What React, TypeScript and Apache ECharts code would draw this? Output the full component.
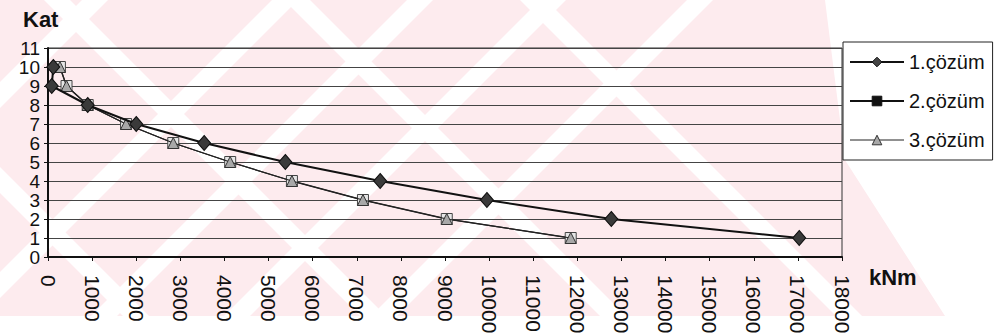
import React, { useEffect, useRef } from "react";
import * as echarts from "echarts";

// Floor numbers (Kat) and bending moments (kNm) for the three solutions
const floors = [10, 9, 8, 7, 6, 5, 4, 3, 2, 1];
const moment1 = [120, 85, 900, 2000, 3540, 5380, 7530, 9950, 12770, 17030];
const moment2 = [270, 420, 900, 1770, 2840, 4130, 5530, 7140, 9040, 11850];
const moment3 = [270, 420, 900, 1770, 2840, 4130, 5530, 7140, 9040, 11850];
const seriesNames = ["1.çözüm", "2.çözüm", "3.çözüm"];

const FONT = "Arial, 'Liberation Sans', sans-serif";

// Background watermark: pink field crossed by white diagonal bands
const H = 316;
const slashBands = [95, 285, 420, 553, 700];
const backBands = [-180, 57, 297, 533];

function band(c: number, w: number, dir: "/" | "\\") {
  return dir === "/"
    ? [[c - w, 0], [c + w, 0], [c + w - H, H], [c - w - H, H]]
    : [[c - w, 0], [c + w, 0], [c + w + H, H], [c - w + H, H]];
}

export default function App() {
  const ref = useRef<HTMLDivElement>(null);

  useEffect(() => {
    if (!ref.current) return;
    const chart = echarts.init(ref.current, undefined, { renderer: "svg" });

    const pair = (xs: number[]) => xs.map((x, i) => [x, floors[i]]);

    const watermark: any[] = [
      {
        type: "polygon",
        z: -10,
        silent: true,
        shape: { points: [[0, 0], [825, 0], [845, 160], [945, H], [0, H]] },
        style: { fill: "#fdebee" },
      },
      ...slashBands.map((c) => ({
        type: "polygon",
        z: -9,
        silent: true,
        shape: { points: band(c, 13, "/") },
        style: { fill: "#ffffff" },
      })),
      ...backBands.map((c) => ({
        type: "polygon",
        z: -9,
        silent: true,
        shape: { points: band(c, 13, "\\") },
        style: { fill: "#ffffff" },
      })),
    ];

    chart.setOption({
      animation: false,
      backgroundColor: "#ffffff",
      textStyle: { fontFamily: FONT },
      grid: {
        left: 48,
        right: 157,
        top: 48,
        bottom: 78,
        outerBoundsMode: "none",
        containLabel: false,
        show: true,
        borderColor: "#333",
        borderWidth: 1,
        backgroundColor: "transparent",
      },
      graphic: [
        ...watermark,
        {
          type: "text",
          left: 23,
          top: 8,
          z: 10,
          style: { text: "Kat", font: `bold 22px ${FONT}`, fill: "#111" },
        },
        {
          type: "text",
          left: 869,
          top: 266,
          z: 10,
          style: { text: "kNm", font: `bold 22px ${FONT}`, fill: "#111" },
        },
      ],
      legend: {
        orient: "vertical",
        left: 843,
        top: 42,
        padding: [10, 8, 10, 6],
        itemGap: 19,
        itemWidth: 54,
        itemHeight: 12,
        backgroundColor: "#ffffff",
        borderColor: "#222",
        borderWidth: 1,
        textStyle: { fontFamily: FONT, fontSize: 20, color: "#111" },
        data: [
          {
            name: seriesNames[0],
            itemStyle: { color: "#444", borderColor: "#111", borderWidth: 1 },
            lineStyle: { color: "#111", width: 2 },
          },
          {
            name: seriesNames[1],
            itemStyle: { color: "#111", borderColor: "#111", borderWidth: 1 },
            lineStyle: { color: "#111", width: 2 },
          },
          {
            name: seriesNames[2],
            itemStyle: { color: "#a8a8a8", borderColor: "#333", borderWidth: 1 },
            lineStyle: { color: "#222", width: 1 },
          },
        ],
      },
      xAxis: {
        type: "value",
        min: 0,
        max: 18000,
        interval: 1000,
        z: 3,
        axisLine: { show: true, onZero: false, lineStyle: { color: "#111", width: 2 } },
        axisTick: { show: true, length: 4, lineStyle: { color: "#111", width: 1 } },
        splitLine: { show: false },
        axisLabel: {
          rotate: -90,
          margin: 18,
          fontSize: 21,
          lineHeight: 20,
          fontFamily: FONT,
          color: "#111",
          showMinLabel: true,
          showMaxLabel: true,
          hideOverlap: false,
          formatter: (v: number) => String(v),
        },
      },
      yAxis: {
        type: "value",
        min: 0,
        max: 11,
        interval: 1,
        z: 3,
        axisLine: { show: true, onZero: false, lineStyle: { color: "#111", width: 2 } },
        axisTick: { show: true, length: 4, lineStyle: { color: "#111", width: 1 } },
        splitLine: { show: true, lineStyle: { color: "#444", width: 1 } },
        axisLabel: {
          margin: 8,
          fontSize: 19,
          lineHeight: 18,
          fontFamily: FONT,
          color: "#111",
          showMinLabel: true,
          showMaxLabel: true,
          hideOverlap: false,
          formatter: (v: number) => String(v),
        },
      },
      series: [
        {
          name: seriesNames[1],
          type: "line",
          z: 3,
          data: pair(moment2),
          symbol: "rect",
          symbolSize: 11,
          lineStyle: { color: "#222", width: 1.3 },
          itemStyle: { color: "#e6e6e6", borderColor: "#444", borderWidth: 1 },
        },
        {
          name: seriesNames[2],
          type: "line",
          z: 4,
          data: pair(moment3),
          symbol: "triangle",
          symbolSize: 11,
          lineStyle: { color: "#222", width: 1.2 },
          itemStyle: { color: "#a8a8a8", borderColor: "#333", borderWidth: 1 },
        },
        {
          name: seriesNames[0],
          type: "line",
          z: 5,
          data: pair(moment1),
          symbol: "diamond",
          symbolSize: [13, 15],
          lineStyle: { color: "#111", width: 2 },
          itemStyle: { color: "#3a3a3a", borderColor: "#111", borderWidth: 1 },
        },
      ],
    });

    return () => chart.dispose();
  }, []);

  return (
    <div
      ref={ref}
      style={{ position: "fixed", left: 0, top: 0, width: 999, height: 335 }}
    />
  );
}
